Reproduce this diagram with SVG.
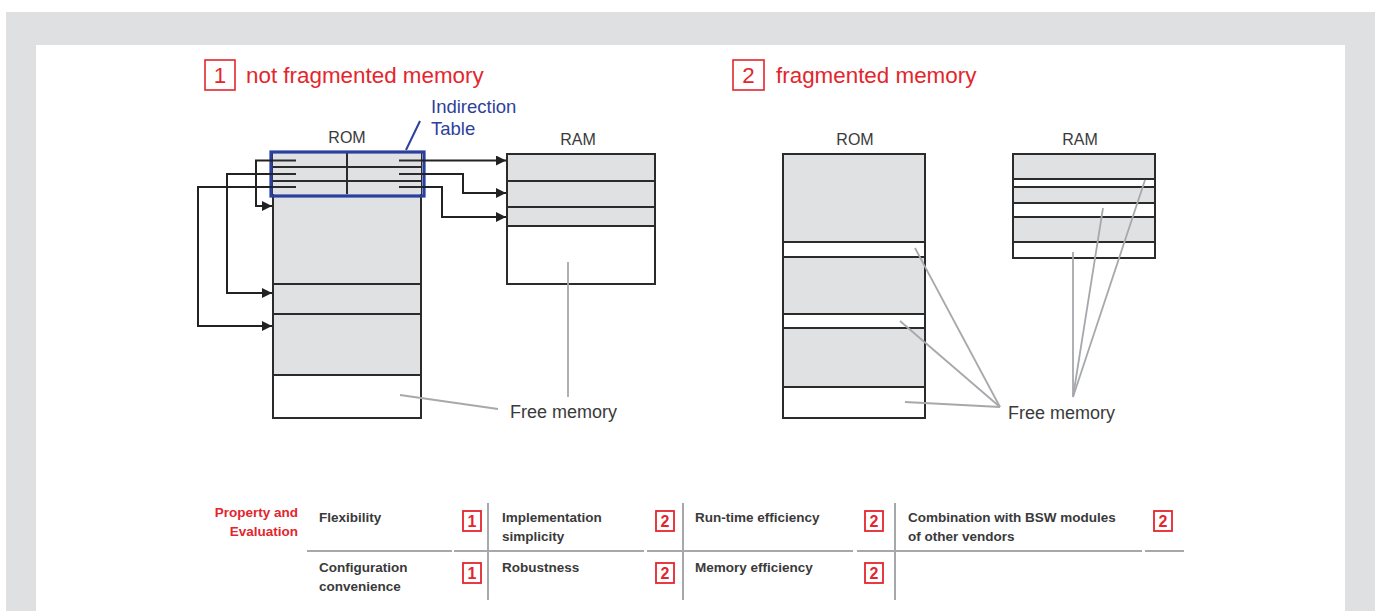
<svg xmlns="http://www.w3.org/2000/svg" width="1378" height="611" viewBox="0 0 1378 611">
<defs>
<marker id="ah" viewBox="0 0 10 10" refX="10" refY="5" markerWidth="11" markerHeight="10" markerUnits="userSpaceOnUse" orient="auto">
<path d="M0,0 L10,5 L0,10 z" fill="#222"/>
</marker>
<style>
.mem{fill:#e0e1e3;stroke:#2b2b2b;stroke-width:2}
.free{fill:#fff;stroke:#2b2b2b;stroke-width:2}
.ln{stroke:#2b2b2b;stroke-width:2;fill:none}
.arr{stroke:#222;stroke-width:2;fill:none;marker-end:url(#ah)}
.tick{stroke:#2b2b2b;stroke-width:2}
.lead{stroke:#a6a8ab;stroke-width:1.8;fill:none}
.lbl{font-family:"Liberation Sans",Arial,sans-serif;font-size:16px;fill:#3a3a3a}
.fm{font-family:"Liberation Sans",Arial,sans-serif;font-size:18px;fill:#3a3a3a}
.title{font-family:"Liberation Sans",Arial,sans-serif;font-size:22.4px;fill:#e3262d}
.nbox{fill:none;stroke:#e3262d;stroke-width:1.6}
.tbox{fill:none;stroke:#e3262d;stroke-width:1.8}
.tnum{font-family:"Liberation Sans",Arial,sans-serif;font-size:16px;font-weight:bold;fill:#e3262d}
.cell{font-family:"Liberation Sans",Arial,sans-serif;font-size:13.5px;font-weight:bold;fill:#3a3a3a}
.red{fill:#e3262d}
.sep{stroke:#a6a8ab;stroke-width:2}
.blue{font-family:"Liberation Sans",Arial,sans-serif;font-size:18.5px;fill:#2e3f9c}
</style>
</defs>
<rect x="0" y="0" width="1378" height="611" fill="#fff"/>
<rect x="6" y="12" width="1369" height="599" fill="#dfe0e2"/>
<rect x="36" y="45" width="1309" height="566" fill="#fff"/>

<g id="title1">
<rect class="nbox" x="205" y="60" width="30" height="30"/>
<text class="title" x="220" y="83" text-anchor="middle">1</text>
<text class="title" x="246" y="83">not fragmented memory</text>
</g>
<g id="title2">
<rect class="nbox" x="733" y="60" width="31" height="30"/>
<text class="title" x="748.5" y="83" text-anchor="middle">2</text>
<text class="title" x="776" y="83">fragmented memory</text>
</g>

<g id="rom1">
<text class="lbl" x="347" y="143" text-anchor="middle">ROM</text>
<rect class="mem" x="273" y="153" width="148" height="131"/>
<rect class="mem" x="273" y="284" width="148" height="30"/>
<rect class="mem" x="273" y="314" width="148" height="61"/>
<rect class="free" x="273" y="375" width="148" height="43"/>
</g>
<g id="indirection-table">
<rect x="273" y="153" width="148" height="41" fill="#e0e1e3"/>
<line class="ln" x1="273" y1="167" x2="421" y2="167"/>
<line class="ln" x1="273" y1="181" x2="421" y2="181"/>
<line class="ln" x1="347" y1="153" x2="347" y2="194"/>
<line class="tick" x1="273" y1="160.5" x2="296" y2="160.5"/>
<line class="tick" x1="273" y1="174" x2="296" y2="174"/>
<line class="tick" x1="273" y1="187" x2="296" y2="187"/>
<line class="tick" x1="399" y1="160.5" x2="421" y2="160.5"/>
<line class="tick" x1="399" y1="174" x2="421" y2="174"/>
<line class="tick" x1="399" y1="187" x2="421" y2="187"/>
<rect x="271" y="152" width="153" height="44" fill="none" stroke="#2b3f9e" stroke-width="3.2"/>
<line x1="406" y1="150" x2="420" y2="121" stroke="#2b3f9e" stroke-width="2"/>
<text class="blue" x="431" y="113">Indirection</text>
<text class="blue" x="431" y="135">Table</text>
</g>
<g id="ram1">
<text class="lbl" x="578" y="145" text-anchor="middle">RAM</text>
<rect class="mem" x="507" y="154" width="148" height="27"/>
<rect class="mem" x="507" y="181" width="148" height="26"/>
<rect class="mem" x="507" y="207" width="148" height="19"/>
<rect class="free" x="507" y="226" width="148" height="58"/>
</g>
<g id="free1">
<line class="lead" x1="568" y1="262" x2="568" y2="397"/>
<line class="lead" x1="400" y1="395" x2="498" y2="409"/>
<text class="fm" x="510" y="418">Free memory</text>
</g>

<g id="connectors">
<path class="arr" d="M273 160.5 H256 V206 H272"/>
<path class="arr" d="M273 174 H227 V293 H272"/>
<path class="arr" d="M273 187 H198 V326 H272"/>
<path class="arr" d="M421 160.5 H506"/>
<path class="arr" d="M421 174 H463 V193 H506"/>
<path class="arr" d="M421 187 H442 V217 H506"/>
</g>

<g id="rom2">
<text class="lbl" x="855" y="145" text-anchor="middle">ROM</text>
<rect class="mem" x="783" y="154" width="142" height="88"/>
<rect class="free" x="783" y="242" width="142" height="15"/>
<rect class="mem" x="783" y="257" width="142" height="57"/>
<rect class="free" x="783" y="314" width="142" height="14"/>
<rect class="mem" x="783" y="328" width="142" height="59"/>
<rect class="free" x="783" y="387" width="142" height="31"/>
</g>
<g id="ram2">
<text class="lbl" x="1080" y="145" text-anchor="middle">RAM</text>
<rect class="mem" x="1013" y="154" width="142" height="25"/>
<rect class="free" x="1013" y="179" width="142" height="8"/>
<rect class="mem" x="1013" y="187" width="142" height="16"/>
<rect class="free" x="1013" y="203" width="142" height="14"/>
<rect class="mem" x="1013" y="217" width="142" height="25"/>
<rect class="free" x="1013" y="242" width="142" height="16"/>
</g>
<g id="free2">
<line class="lead" x1="915" y1="248" x2="1000" y2="407"/>
<line class="lead" x1="900" y1="321" x2="1000" y2="407"/>
<line class="lead" x1="905" y1="402" x2="1000" y2="407"/>
<line class="lead" x1="1073" y1="252" x2="1073" y2="397"/>
<line class="lead" x1="1103" y1="208" x2="1073" y2="397"/>
<line class="lead" x1="1145" y1="180" x2="1073" y2="397"/>
<text class="fm" x="1008" y="419">Free memory</text>
</g>

<g id="evaluation-table">
<text class="cell red" x="298" y="517" text-anchor="end">Property and</text>
<text class="cell red" x="298" y="536" text-anchor="end">Evaluation</text>
<line class="sep" x1="307" y1="551" x2="452" y2="551"/>
<line class="sep" x1="454" y1="551" x2="644" y2="551"/>
<line class="sep" x1="647" y1="551" x2="853" y2="551"/>
<line class="sep" x1="857" y1="551" x2="1142" y2="551"/>
<line class="sep" x1="1145" y1="551" x2="1184" y2="551"/>
<line class="sep" x1="488" y1="503" x2="488" y2="600"/>
<line class="sep" x1="683" y1="503" x2="683" y2="600"/>
<line class="sep" x1="895" y1="503" x2="895" y2="600"/>

<text class="cell" x="319" y="522">Flexibility</text>
<text class="cell" x="319" y="572">Configuration</text>
<text class="cell" x="319" y="591">convenience</text>
<text class="cell" x="502" y="522">Implementation</text>
<text class="cell" x="502" y="541">simplicity</text>
<text class="cell" x="502" y="572">Robustness</text>
<text class="cell" x="695" y="522">Run-time efficiency</text>
<text class="cell" x="695" y="572">Memory efficiency</text>
<text class="cell" x="908" y="522">Combination with BSW modules</text>
<text class="cell" x="908" y="541">of other vendors</text>

<rect class="tbox" x="463" y="511" width="18" height="20"/>
<text class="tnum" x="472" y="527" text-anchor="middle">1</text>
<rect class="tbox" x="463" y="563" width="18" height="20"/>
<text class="tnum" x="472" y="579" text-anchor="middle">1</text>
<rect class="tbox" x="656" y="511" width="18" height="20"/>
<text class="tnum" x="665" y="527" text-anchor="middle">2</text>
<rect class="tbox" x="656" y="563" width="18" height="20"/>
<text class="tnum" x="665" y="579" text-anchor="middle">2</text>
<rect class="tbox" x="865" y="511" width="18" height="20"/>
<text class="tnum" x="874" y="527" text-anchor="middle">2</text>
<rect class="tbox" x="865" y="563" width="18" height="20"/>
<text class="tnum" x="874" y="579" text-anchor="middle">2</text>
<rect class="tbox" x="1154" y="511" width="18" height="20"/>
<text class="tnum" x="1163" y="527" text-anchor="middle">2</text>
</g>
</svg>
